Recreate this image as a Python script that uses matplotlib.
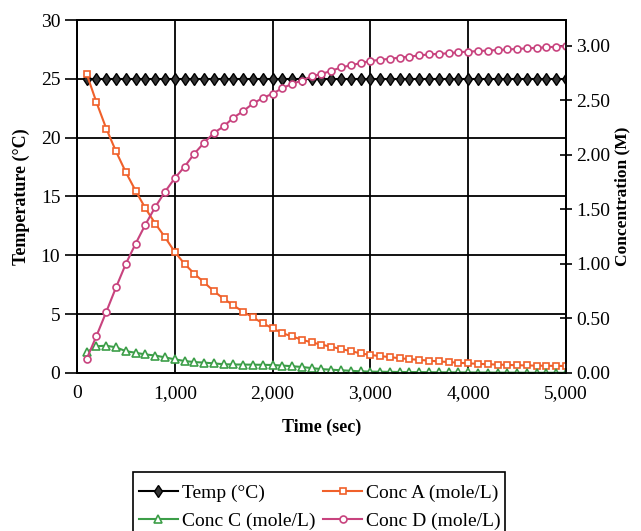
import numpy as np
import matplotlib.pyplot as plt
from matplotlib.patches import Rectangle
from matplotlib.ticker import FuncFormatter, MultipleLocator

plt.rcParams['font.family'] = ['Liberation Serif', 'DejaVu Serif']

# tijd in seconden, elke 100 s gemeten
time = np.arange(100, 5001, 100)

temp = [25.0] * 50

conc_a = [2.74, 2.48, 2.24, 2.03, 1.84, 1.67, 1.51, 1.37, 1.245, 1.11,
          1.00, 0.91, 0.83, 0.75, 0.68, 0.62, 0.56, 0.51, 0.455, 0.41,
          0.365, 0.335, 0.305, 0.28, 0.26, 0.24, 0.22, 0.20, 0.18, 0.165,
          0.155, 0.145, 0.135, 0.127, 0.12, 0.113, 0.106, 0.10, 0.094, 0.088,
          0.084, 0.080, 0.077, 0.074, 0.071, 0.069, 0.067, 0.066, 0.065, 0.064]

conc_c = [0.19, 0.245, 0.25, 0.235, 0.20, 0.185, 0.17, 0.16, 0.143, 0.125,
          0.11, 0.10, 0.095, 0.088, 0.08, 0.078, 0.077, 0.076, 0.075, 0.073,
          0.068, 0.062, 0.055, 0.045, 0.035, 0.03, 0.025, 0.02, 0.015, 0.012,
          0.011, 0.010, 0.009, 0.008, 0.008, 0.007, 0.006, 0.006, 0.005, 0.005,
          0.004, 0.004, 0.003, 0.003, 0.003, 0.002, 0.002, 0.002, 0.002, 0.001]

conc_d = [0.13, 0.34, 0.56, 0.785, 1.00, 1.185, 1.36, 1.52, 1.66, 1.785,
          1.89, 2.01, 2.11, 2.20, 2.26, 2.34, 2.40, 2.47, 2.52, 2.56,
          2.61, 2.65, 2.68, 2.72, 2.74, 2.77, 2.80, 2.82, 2.84, 2.86,
          2.87, 2.88, 2.89, 2.90, 2.91, 2.92, 2.925, 2.93, 2.94, 2.945,
          2.95, 2.955, 2.96, 2.965, 2.97, 2.975, 2.98, 2.985, 2.99, 2.995]

orange = '#F0602A'
green = '#3C9E48'
pink = '#C8437E'

fig = plt.figure(figsize=(6.41, 5.31), dpi=100)
ax1 = fig.add_axes([0.120, 0.2976, 0.763, 0.6647])
ax2 = ax1.twinx()

l_temp, = ax1.plot(time, temp, color='black', lw=1.5, marker='d',
                   markersize=6.5, markerfacecolor='#333333',
                   markeredgecolor='black', label='Temp (°C)')
l_a, = ax2.plot(time, conc_a, color=orange, lw=1.5, marker='s',
                markersize=4.5, markerfacecolor='white', markeredgewidth=1.2,
                label='Conc A (mole/L)')
l_c, = ax2.plot(time, conc_c, color=green, lw=1.5, marker='^',
                markersize=5.5, markerfacecolor='white', markeredgewidth=1.2,
                label='Conc C (mole/L)')
l_d, = ax2.plot(time, conc_d, color=pink, lw=1.5, marker='o',
                markersize=5, markerfacecolor='white', markeredgewidth=1.2,
                label='Conc D (mole/L)')

ax1.set_xlim(0, 5000)
ax1.set_ylim(0, 30)
ax2.set_ylim(0, 3.235)

ax1.xaxis.set_major_locator(MultipleLocator(1000))
ax1.xaxis.set_major_formatter(FuncFormatter(lambda v, p: f'{int(v):,}'))
ax1.yaxis.set_major_locator(MultipleLocator(5))
ax2.yaxis.set_major_locator(MultipleLocator(0.5))
ax2.yaxis.set_major_formatter(FuncFormatter(lambda v, p: f'{v:.2f}' if v <= 3.0 else ''))

ax1.grid(True, color='black', lw=1.3)
ax1.set_axisbelow(True)

ax1.tick_params(axis='x', length=0, labelsize=14, pad=9)
ax1.tick_params(axis='y', direction='out', length=9, width=1.2, labelsize=14, pad=3)
ax2.tick_params(axis='y', direction='inout', length=9, width=1.2, labelsize=14, pad=3)

for ax in (ax1, ax2):
    for s in ax.spines.values():
        s.set_color('black')
        s.set_linewidth(1.3)

ax1.set_xlabel('Time (sec)', fontsize=13, fontweight='bold', labelpad=12)
ax1.set_ylabel('Temperature (°C)', fontsize=13, fontweight='bold', labelpad=8)
ax2.set_ylabel('Concentration (M)', fontsize=12.5, fontweight='bold', labelpad=3)

# legenda onder de grafiek; het kader loopt door tot onder de rand van de figuur
leg = fig.legend(handles=[l_temp, l_c, l_a, l_d], ncol=2, loc='upper left',
                 bbox_to_anchor=(139 / 641, 1 - 484 / 531),
                 bbox_transform=fig.transFigure, fontsize=14, frameon=False,
                 handlelength=2.0, handletextpad=0.2, columnspacing=0.4,
                 labelspacing=0.55, borderpad=0, borderaxespad=0)
fig.patches.append(Rectangle((133 / 641, -0.02), 372 / 641, 0.1311,
                             transform=fig.transFigure, fill=False,
                             edgecolor='black', lw=1.2, zorder=5))

fig.savefig('out.png', dpi=100)
